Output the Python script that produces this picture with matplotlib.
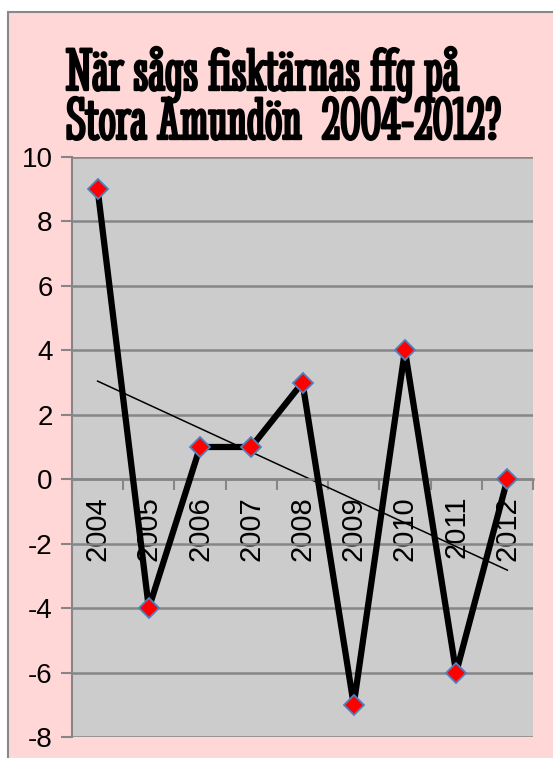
import numpy as np
import matplotlib
matplotlib.use("Agg")
import matplotlib.pyplot as plt
import matplotlib.patheffects as pe
from matplotlib.patches import Rectangle

# Data
years = ["2004", "2005", "2006", "2007", "2008", "2009", "2010", "2011", "2012"]
values = [9, -4, 1, 1, 3, -7, 4, -6, 0]
y_ticks = [-8, -6, -4, -2, 0, 2, 4, 6, 8, 10]
title_lines = ["När sågs fisktärnas ffg på", "Stora Amundön  2004-2012?"]

W, H = 553, 758
fig = plt.figure(figsize=(W / 100, H / 100), dpi=100)
fig.patch.set_facecolor("white")

# pink chart area with grey frame
fig.patches.append(Rectangle((8 / W, -0.01), 1, 1.01 - 12 / H, transform=fig.transFigure,
                             facecolor="#ffd7d7", edgecolor="#888888", linewidth=1.5, zorder=-5))

ax = fig.add_axes([72 / W, 1 - 737 / H, (533 - 72) / W, (737 - 157) / H])
ax.set_facecolor("#cccccc")

# spines first (moving a spine resets the tick settings)
for s in ["top", "right"]:
    ax.spines[s].set_visible(False)
ax.spines["bottom"].set_position(("data", 0))
ax.spines["bottom"].set_color("#868686")
ax.spines["bottom"].set_linewidth(1.8)
ax.spines["left"].set_color("#868686")
ax.spines["left"].set_linewidth(1.5)

x = np.arange(len(years))
ax.plot(x, values, color="black", linewidth=4.5, zorder=3, clip_on=False,
        marker="D", markersize=10, markerfacecolor="red",
        markeredgecolor="#4f81bd", markeredgewidth=1.3)

# linear trendline
k, m = np.polyfit(x, values, 1)
ax.plot(x, k * x + m, color="black", linewidth=1.1, zorder=2)

ax.set_xlim(-0.5, len(years) - 0.5)
ax.set_ylim(-8, 10)
ax.set_yticks(y_ticks)
ax.set_yticklabels([str(t) for t in y_ticks], fontsize=20, family="Liberation Sans")
ax.tick_params(axis="y", length=8, width=1.5, color="#868686", pad=6)
ax.yaxis.grid(True, color="#868686", linewidth=1.8)
ax.set_axisbelow(True)

ax.set_xticks(x)
ax.set_xticklabels(years, rotation=90, fontsize=21, family="Liberation Sans", va="top")
ax.set_xticks(np.arange(-0.5, len(years)), minor=True)
ax.tick_params(axis="x", which="major", length=0, pad=12)
ax.tick_params(axis="x", which="minor", length=8, width=1.5, color="#868686")

# title: heavy condensed serif, thickened with a stroke
stroke = [pe.withStroke(linewidth=1.7, foreground="black")]
t1 = fig.text(66 / W, 1 - 90 / H, title_lines[0], ha="left", va="baseline", fontsize=48,
              family="Stint Ultra Condensed", path_effects=stroke)
t2 = fig.text(66 / W, 1 - 139 / H, title_lines[1], ha="left", va="baseline", fontsize=48,
              family="Stint Ultra Condensed", path_effects=stroke)
r = fig.canvas.get_renderer()
w2 = t2.get_window_extent(r).width
size = 48 * 435 / w2
t1.set_fontsize(size)
t2.set_fontsize(size)

fig.savefig("out.png", dpi=100, facecolor=fig.get_facecolor())
